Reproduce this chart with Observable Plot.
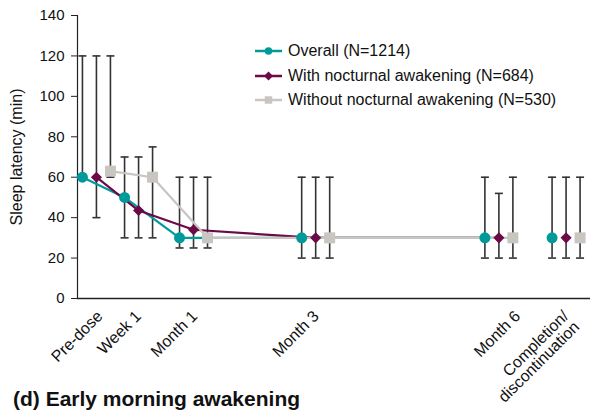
<!DOCTYPE html>
<html>
<head>
<meta charset="utf-8">
<script src="https://cdn.jsdelivr.net/npm/d3@7"></script>
<script src="https://cdn.jsdelivr.net/npm/@observablehq/plot@0.6"></script>
<style>
  body { margin: 0; background: #fff; font-family: "Liberation Sans", Arial, sans-serif; }
  #wrap { position: relative; width: 595px; height: 412px; overflow: hidden; }
  #title { position: absolute; left: 13px; top: 388px; font-weight: bold; font-size: 21px; line-height: 21px; color: #111; white-space: nowrap; }
  #legend { position: absolute; left: 254px; top: 39px; font-size: 16px; color: #111; }
  #legend .row { display: flex; align-items: center; height: 24.5px; }
  #legend .row svg { margin-right: 5px; }
</style>
</head>
<body>
<div id="wrap">
  <div id="chart"></div>
  <div id="legend"></div>
  <div id="title">(d) Early morning awakening</div>
</div>
<script>
// Visits along the study timeline (position on a month-based axis)
const visits = ["Pre-dose", "Week 1", "Month 1", "Month 3", "Month 6", "Completion/\ndiscontinuation"];
const visitPos = [-0.59, 0.1, 1, 3, 6, 7.1];
const labelPos = [-0.5, 0.13, 1.05, 3.04, 6.34, 7.13];
const connected = [true, true, true, true, true, false];

// Sleep latency (min): median with lower / upper whiskers
const seriesNames = ["Overall (N=1214)", "With nocturnal awakening (N=684)", "Without nocturnal awakening (N=530)"];
const overallMedian = [60, 50, 30, 30, 30, 30];
const overallLow    = [60, 30, 25, 20, 20, 20];
const overallHigh   = [120, 70, 60, 60, 60, 60];
const withMedian    = [60, 43.5, 34, 30, 30, 30];
const withLow       = [40, 30, 25, 20, 20, 20];
const withHigh      = [120, 70, 60, 60, 52, 60];
const withoutMedian = [63, 60, 30, 30, 30, 30];
const withoutLow    = [60, 30, 25, 20, 20, 20];
const withoutHigh   = [120, 75, 60, 60, 60, 60];

const yTicks = [0, 20, 40, 60, 80, 100, 120, 140];
const yLabel = "Sleep latency (min)";

const colors = ["#009a9a", "#6b0a47", "#c9c5c1"];
const symbols = ["circle", "diamond2", "square"];
const radii = [5.5, 5, 6.2];
const offsets = [-14, 0, 14];

const medians = [overallMedian, withMedian, withoutMedian];
const lows = [overallLow, withLow, withoutLow];
const highs = [overallHigh, withHigh, withoutHigh];

const tables = seriesNames.map((name, s) => visits.map((v, i) => ({
  series: name, visit: v, pos: visitPos[i], median: medians[s][i],
  low: lows[s][i], high: highs[s][i], connected: connected[i]
})));

// Horizontal cap drawn as a dot symbol for the whisker ends
const cap = {
  draw(context, size) {
    const w = Math.sqrt(size / Math.PI);
    context.moveTo(-w, 0);
    context.lineTo(w, 0);
  }
};

const whiskerColor = "#333333";
const marks = [];

marks.push(Plot.ruleY([0], {stroke: "#222", strokeWidth: 1.5}));
marks.push(Plot.axisY({
  ticks: yTicks, tickSize: 6, tickPadding: 7, tickFormat: d => d, fontSize: 15,
  label: null, stroke: "#222"
}));
marks.push(Plot.text([yLabel], {
  text: d => d, frameAnchor: "left", textAnchor: "middle", rotate: -90, dx: -61, fontSize: 16, fill: "#111"
}));
marks.push(Plot.ruleX([-0.9], {y1: 0, y2: 140, stroke: "#222", strokeWidth: 1.2}));

// Whiskers and caps
tables.forEach((t, s) => {
  marks.push(Plot.ruleX(t, {x: "pos", y1: "low", y2: "high", dx: offsets[s], stroke: whiskerColor, strokeWidth: 1.6}));
  marks.push(Plot.dot(t, {x: "pos", y: "high", dx: offsets[s], symbol: cap, r: 4, stroke: whiskerColor, strokeWidth: 1.6, fill: "none"}));
  marks.push(Plot.dot(t, {x: "pos", y: "low", dx: offsets[s], symbol: cap, r: 4, stroke: whiskerColor, strokeWidth: 1.6, fill: "none"}));
});

// Connecting lines across the scheduled visits
tables.forEach((t, s) => {
  marks.push(Plot.line(t.filter(d => d.connected), {x: "pos", y: "median", dx: offsets[s], stroke: colors[s], strokeWidth: 2.2}));
});

// Median markers
tables.forEach((t, s) => {
  marks.push(Plot.dot(t, {x: "pos", y: "median", dx: offsets[s], symbol: symbols[s], r: radii[s], fill: colors[s], stroke: "none"}));
});

// Rotated visit labels under the axis
const labelData = visits.map((v, i) => ({visit: v, pos: labelPos[i]}));
marks.push(Plot.text(labelData, {
  x: "pos", y: () => 0, text: "visit", rotate: -45, textAnchor: "end", lineAnchor: "top",
  dx: -6, dy: 11, fontSize: 16, fill: "#111", lineHeight: 0.95
}));

const chart = Plot.plot({
  width: 595,
  height: 412,
  marginLeft: 77,
  marginRight: 5,
  marginTop: 15,
  marginBottom: 114,
  style: {fontSize: "16px", fontFamily: "'Liberation Sans', Arial, sans-serif", color: "#111", background: "#fff"},
  x: {domain: [-0.9, 7.5], axis: null},
  y: {domain: [0, 140]},
  marks
});
document.getElementById("chart").append(chart);

// Legend rows: line with marker, then series name
const legend = d3.select("#legend");
seriesNames.forEach((name, s) => {
  const row = legend.append("div").attr("class", "row");
  const svg = row.append("svg").attr("width", 29).attr("height", 14);
  svg.append("line").attr("x1", 1).attr("x2", 28).attr("y1", 7).attr("y2", 7)
    .attr("stroke", colors[s]).attr("stroke-width", 2.5);
  const sym = [d3.symbolCircle, d3.symbolDiamond2, d3.symbolSquare][s];
  const size = [44, 52, 56][s];
  svg.append("path").attr("d", d3.symbol(sym, size)()).attr("transform", "translate(14.5,7)").attr("fill", colors[s]);
  row.append("span").text(name);
});
</script>
</body>
</html>
